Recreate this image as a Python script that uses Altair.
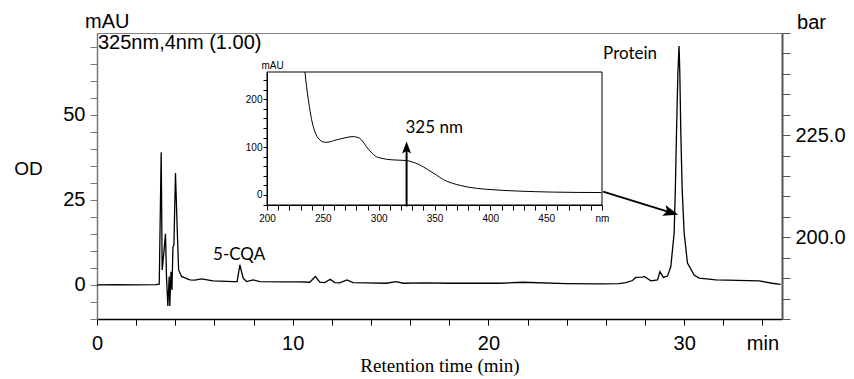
import altair as alt
import pandas as pd

# ---- chromatogram (325 nm) ----
time_min = [0.0, 1.0, 2.0, 3.0, 3.18, 3.28, 3.33, 3.42, 3.50, 3.55, 3.62, 3.69, 3.72, 3.78,
            3.83, 3.88, 3.93, 4.01, 4.10, 4.17, 4.32, 4.74, 5.0, 5.34, 5.93, 6.96, 7.16, 7.30,
            7.47, 7.64, 7.98, 8.32, 9.5, 10.36, 10.87, 11.16, 11.38, 11.63, 11.92, 12.14, 12.4,
            12.77, 13.08, 13.76, 14.78, 15.29, 15.63, 16.73, 18.0, 20.56, 21.75, 23.96, 25.66,
            26.68, 27.02, 27.36, 27.53, 27.87, 27.96, 28.30, 28.64, 28.76, 28.94, 29.15, 29.32,
            29.49, 29.55, 29.61, 29.68, 29.74, 29.78, 29.83, 29.90, 30.0, 30.17, 30.51, 30.77,
            31.62, 33.83, 34.49, 34.93]
od_mau = [0.0, 0.1, 0.0, 0.1, 0.2, 39.0, 4.4, 9.8, 15.0, 2.5, -6.2, 2.5, -6.2, 3.9,
          -1.5, 11.1, 11.8, 32.9, 16.2, 4.4, 2.5, 1.5, 1.4, 1.8, 1.2, 1.0, 1.0, 5.9,
          2.0, 1.0, 1.5, 1.0, 0.9, 0.9, 0.8, 2.5, 0.8, 0.7, 1.7, 0.7, 0.6,
          1.5, 0.7, 0.6, 0.5, 1.0, 0.5, 0.6, 0.5, 0.5, 0.8, 0.4, 0.3,
          0.4, 0.7, 1.3, 2.2, 2.3, 2.5, 1.2, 1.5, 3.9, 2.2, 2.6, 5.4,
          15.3, 28.0, 44.8, 62.0, 70.2, 62.0, 44.8, 28.0, 15.3, 6.4, 2.9, 2.0,
          1.5, 1.2, 0.5, 0.2]

# ---- inset UV spectrum ----
spec_nm = [234, 235.5, 237, 241.4, 244, 247.3, 250, 253.3, 262, 270, 277, 280, 283, 286, 289,
           293, 298, 302, 307, 315, 325, 330, 336.6, 344, 351.5, 358, 366, 373, 381, 396,
           426, 455.6, 499.5]
spec_mau = [257, 225, 199, 143, 126, 115, 111, 110, 115, 119.5, 122, 121, 118.6, 111, 101,
            90, 80, 77, 74.6, 73, 72, 69, 63, 53, 42, 32, 24.5, 20, 16, 12,
            8, 6, 5]

# ---- axes ----
t_dom = [0, 35]
od_dom = [-10, 74]
bar_dom = [180, 250]
nm_dom = [200, 500]
ins_dom = [-21, 257]
x_ticks = list(range(0, 35, 2))
od_ticks = list(range(-10, 71, 5))
bar_ticks = list(range(180, 251, 5))
nm_ticks = list(range(200, 501, 10))
ins_ticks = list(range(-20, 241, 20))

# ---- annotations ----
peak_names = ["5-CQA", "Protein"]
peak_t = [5.93, 25.86]
peak_v = [8.85, 67.8]
arrow_t = [25.86, 29.33]
arrow_v = [27.4, 21.25]
arrow_head_angle = 17.5
uv_arrow_nm = [325]
uv_arrow_from = [-24]
uv_arrow_to = [99]
uv_label = ["325 nm"]
uv_label_nm = [324]
uv_label_mau = [140]
channel_label = ["325nm,4nm (1.00)"]

ARROW = "M1,0L-1,-0.75L-0.55,0L-1,0.75Z"

X = alt.X("t:Q", scale=alt.Scale(domain=t_dom, nice=False, zero=False),
          axis=alt.Axis(orient="bottom", values=x_ticks,
                        labelExpr="datum.value % 10 == 0 ? datum.label : (datum.value == 34 ? 'min' : '')",
                        title="Retention time (min)", titleFont="Liberation Serif", titleFontSize=19,
                        titleFontWeight="normal", titleY=46, titleBaseline="middle",
                        tickSize=6, labelPadding=8, labelFontSize=20, labelOverlap=False,
                        labelFlush=False, domainColor="black", tickColor="black",
                        domainWidth=1.5, grid=False))
Y = alt.Y("v:Q", scale=alt.Scale(domain=od_dom, nice=False, zero=False),
          axis=alt.Axis(orient="left", values=od_ticks,
                        labelExpr="datum.value % 25 == 0 ? datum.label : ''",
                        title="OD", titleAngle=0, titleX=-69, titleY=135, titleAlign="center",
                        titleBaseline="middle", titleFontSize=19, titleFontWeight="normal",
                        tickSize=7, labelPadding=5, labelFontSize=20, labelOverlap=False,
                        labelFlush=False, domainColor="#777777", tickColor="#777777",
                        domainWidth=1.5, grid=False))

chrom_df = pd.DataFrame({"t": time_min, "v": od_mau})
chrom = alt.Chart(chrom_df).mark_line(color="black", strokeWidth=1.3).encode(x=X, y=Y)

peaks_df = pd.DataFrame({"t": peak_t, "v": peak_v, "txt": peak_names})
peak_text = alt.Chart(peaks_df).mark_text(align="left", baseline="middle", font="Lato",
                                          fontSize=17, color="black").encode(x=X, y=Y, text="txt:N")

top_df = pd.DataFrame({"t": [t_dom[0]], "v": [od_dom[1]], "txt": channel_label})
chan_text = alt.Chart(top_df).mark_text(align="left", baseline="alphabetic", dx=1, dy=16,
                                        fontSize=20, font="Liberation Sans",
                                        color="black").encode(x=X, y=Y, text="txt:N")
mau_df = pd.DataFrame({"t": [t_dom[0]], "v": [od_dom[1]], "txt": ["mAU"]})
mau_text = alt.Chart(mau_df).mark_text(align="left", baseline="alphabetic", dx=-12, dy=-5,
                                       fontSize=20, font="Liberation Sans",
                                       color="black").encode(x=X, y=Y, text="txt:N")

arrow_df = pd.DataFrame({"t": arrow_t, "v": arrow_v})
arrow_line = alt.Chart(arrow_df).mark_line(color="black", strokeWidth=1.8).encode(x=X, y=Y)
head_df = pd.DataFrame({"t": [arrow_t[1]], "v": [arrow_v[1]]})
arrow_head = alt.Chart(head_df).mark_point(shape=ARROW, size=225, angle=arrow_head_angle,
                                           filled=True, color="black", opacity=1).encode(x=X, y=Y)

main = alt.layer(chrom, peak_text, chan_text, mau_text, arrow_line, arrow_head)

# ---- inset ----
XI = alt.X("nm:Q", scale=alt.Scale(domain=nm_dom, range=[170, 505], nice=False, zero=False),
           axis=alt.Axis(orient="bottom", offset=-114, values=nm_ticks,
                         labelExpr="datum.value == 500 ? 'nm' : (datum.value % 50 == 0 ? datum.label : '')",
                         title=None, tickSize=5, labelPadding=3, labelFontSize=10,
                         labelFont="Liberation Sans Narrow, Liberation Sans", labelOverlap=False,
                         labelFlush=False, domainColor="black", tickColor="black", grid=False))
YI = alt.Y("a:Q", scale=alt.Scale(domain=ins_dom, range=[172, 39], nice=False, zero=False),
           axis=alt.Axis(orient="left", offset=-170, values=ins_ticks,
                         labelExpr="datum.value % 100 == 0 ? datum.label : ''",
                         title="mAU", titleAngle=0, titleX=5, titleY=32, titleAlign="center",
                         titleBaseline="middle", titleFontSize=10, titleFontWeight="normal",
                         titleFont="Liberation Sans Narrow, Liberation Sans",
                         tickSize=4, labelPadding=1, labelFontSize=10,
                         labelFont="Liberation Sans Narrow, Liberation Sans", labelOverlap=False,
                         labelFlush=False, domainColor="black", tickColor="black", grid=False))

frame_df = pd.DataFrame({"nm": [nm_dom[0]], "nm2": [nm_dom[1]], "a": [ins_dom[0]], "a2": [ins_dom[1]]})
frame = alt.Chart(frame_df).mark_rect(fillOpacity=0, stroke="black", strokeWidth=1).encode(
    x=XI, x2="nm2:Q", y=YI, y2="a2:Q")
spec_df = pd.DataFrame({"nm": spec_nm, "a": spec_mau})
spec = alt.Chart(spec_df).mark_line(color="black", strokeWidth=1, interpolate="monotone").encode(x=XI, y=YI)
uv_df = pd.DataFrame({"nm": uv_arrow_nm, "a": uv_arrow_from, "a2": uv_arrow_to})
uv_rule = alt.Chart(uv_df).mark_rule(color="black", strokeWidth=2).encode(x=XI, y=YI, y2="a2:Q")
uvh_df = pd.DataFrame({"nm": uv_arrow_nm, "a": uv_arrow_to})
uv_head = alt.Chart(uvh_df).mark_point(shape=ARROW, size=144, angle=270, filled=True,
                                       color="black", opacity=1).encode(x=XI, y=YI)
uvt_df = pd.DataFrame({"nm": uv_label_nm, "a": uv_label_mau, "txt": uv_label})
uv_text = alt.Chart(uvt_df).mark_text(align="left", baseline="middle", font="Lato", fontSize=17,
                                      color="black").encode(x=XI, y=YI, text="txt:N")
inset = alt.layer(frame, spec, uv_rule, uv_head, uv_text)

# ---- right pressure axis ----
bar_df = pd.DataFrame({"bar": bar_dom})
bar_axis = alt.Chart(bar_df).mark_point(opacity=0).encode(
    y=alt.Y("bar:Q", scale=alt.Scale(domain=bar_dom, nice=False, zero=False),
            axis=alt.Axis(orient="right", values=bar_ticks, format=".1f",
                          labelExpr="(datum.value == 200 || datum.value == 225) ? datum.label : ''",
                          title="bar", titleAngle=0, titleX=29, titleY=-11, titleAlign="center",
                          titleBaseline="middle", titleFontSize=20, titleFontWeight="normal",
                          tickSize=8, labelPadding=5, labelFontSize=20, labelOverlap=False,
                          labelFlush=False, domainColor="#555555", tickColor="#555555",
                          domainWidth=2, grid=False)))

chart = alt.layer(main, inset, bar_axis).resolve_scale(
    x="independent", y="independent"
).properties(
    width=685, height=286,
    autosize=alt.AutoSizeParams(type="none"),
    padding={"left": 89, "top": 25, "right": 64, "bottom": 62},
    background="white",
).configure_view(
    stroke="#808080", strokeWidth=1
).configure_axis(
    labelFont="Liberation Sans", titleFont="Liberation Sans",
    labelColor="black", titleColor="black"
)

chart.save("out.html", embed_options={"renderer": "svg", "actions": False})
